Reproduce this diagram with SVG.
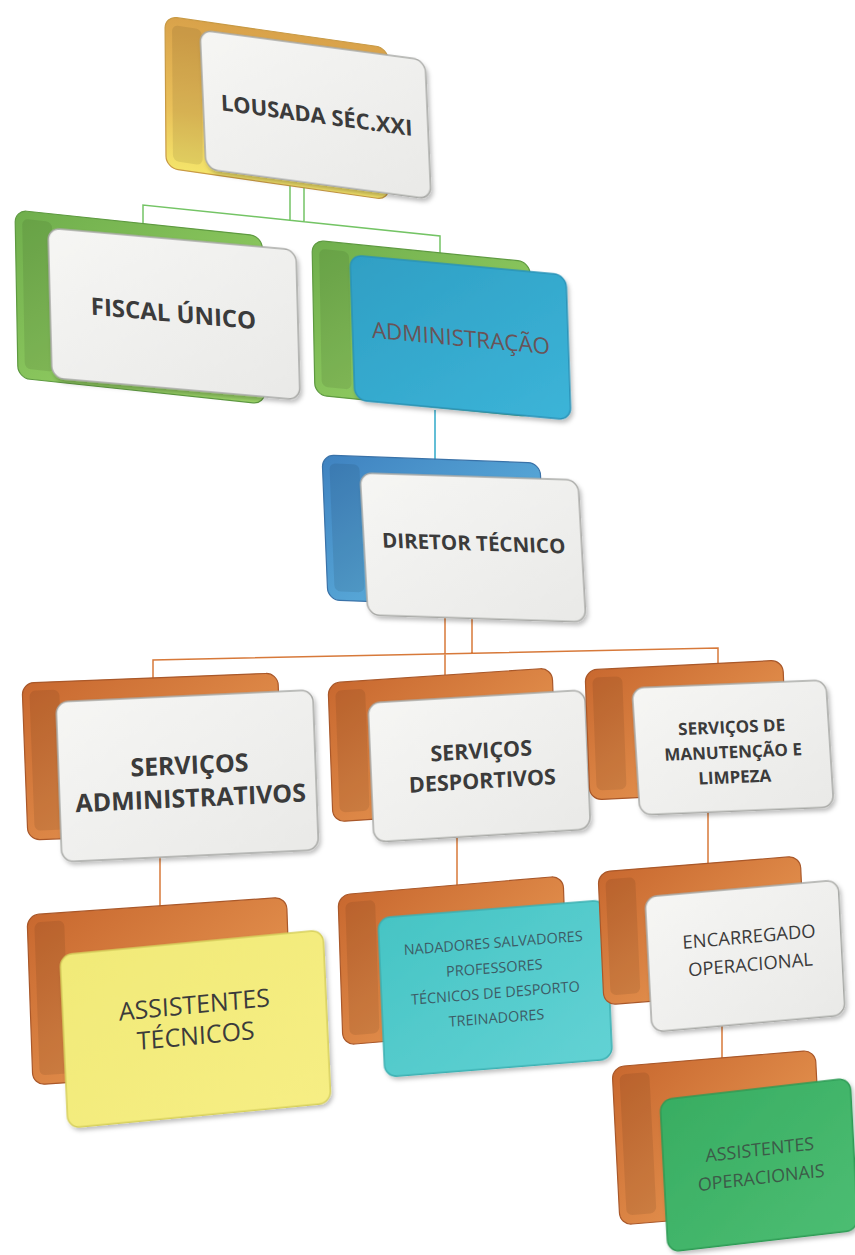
<svg xmlns="http://www.w3.org/2000/svg" width="855" height="1255" viewBox="0 0 855 1255">
<defs>
<linearGradient id="gGold" x1="0" y1="0" x2="0" y2="1"><stop offset="0" stop-color="#d9a24a"/><stop offset="0.6" stop-color="#e9c05a"/><stop offset="1" stop-color="#f4e46a"/></linearGradient>
<linearGradient id="gGreen" x1="0" y1="0" x2="1" y2="1"><stop offset="0" stop-color="#6fae4c"/><stop offset="1" stop-color="#9fd86a"/></linearGradient>
<linearGradient id="gBlue" x1="0" y1="0" x2="1" y2="1"><stop offset="0" stop-color="#3f82c0"/><stop offset="1" stop-color="#68c0e6"/></linearGradient>
<linearGradient id="gOr" x1="0" y1="0" x2="1" y2="1"><stop offset="0" stop-color="#c8682f"/><stop offset="1" stop-color="#eea15a"/></linearGradient>
<linearGradient id="gWhite" x1="0" y1="0" x2="1" y2="1"><stop offset="0" stop-color="#f6f6f4"/><stop offset="1" stop-color="#e9e9e7"/></linearGradient>
<linearGradient id="gAdm" x1="0" y1="0" x2="1" y2="1"><stop offset="0" stop-color="#2f9fc4"/><stop offset="1" stop-color="#3cb4d8"/></linearGradient>
<linearGradient id="gYel" x1="0" y1="0" x2="1" y2="1"><stop offset="0" stop-color="#f1ea78"/><stop offset="1" stop-color="#f6ee84"/></linearGradient>
<linearGradient id="gCyan" x1="0" y1="0" x2="1" y2="1"><stop offset="0" stop-color="#46c4c4"/><stop offset="1" stop-color="#62d2d4"/></linearGradient>
<linearGradient id="gGrn2" x1="0" y1="0" x2="1" y2="1"><stop offset="0" stop-color="#38ad62"/><stop offset="1" stop-color="#4cbd72"/></linearGradient>
<filter id="sh" x="-10%" y="-10%" width="125%" height="130%"><feDropShadow dx="2" dy="3" stdDeviation="2" flood-color="#000" flood-opacity="0.25"/></filter>
</defs>
<style>
.conn{fill:none;stroke-width:1.5}
.g{stroke:#74c465}.b{stroke:#2fa9c9}.o{stroke:#d7793a}
.bk{stroke-width:1.2}
.in{fill:#000;opacity:0.08}
.bg-gold{fill:url(#gGold);stroke:#c89a45}
.bg-green{fill:url(#gGreen);stroke:#5e9a40}
.bg-blue{fill:url(#gBlue);stroke:#3a72a8}
.bg-or{fill:url(#gOr);stroke:#a9582a}
.fr{filter:url(#sh);stroke-width:1.5}
.fw{fill:url(#gWhite);stroke:#a8a9a6}
.fa{fill:url(#gAdm);stroke:#2a93b8}
.fy{fill:url(#gYel);stroke:#d6cf5c}
.fc{fill:url(#gCyan);stroke:#3cb0b2}
.fg{fill:url(#gGrn2);stroke:#2f9a55}
text{font-family:"Open Sans","Noto Sans","Liberation Sans",sans-serif;text-anchor:middle;fill:#3b3b3b}
.bd{font-weight:bold}
</style>

<g id="connectors">
<path class="conn g" d="M290,180 V220 M304,182 V221.5 M143,223 V205 L440,236 V254"/>
<path class="conn b" d="M435,410 V460"/>
<path class="conn o" d="M445,612 V675 M472,614 V653 M153,678 V660 L718,648 V663"/>
<path class="conn o" d="M160,857 V907 M457,838 V886 M708,812 V864 M722,1026 V1059"/>
</g>

<g id="n-lousada">
<g transform="matrix(0.991 0.142 0.007 1 165 16)"><rect class="bk bg-gold" x="0" y="0" width="225" height="152" rx="12"/><rect class="in" x="7" y="8" width="30" height="136" rx="6"/></g>
<g transform="matrix(0.996 0.133 0.043 1 200 30)"><rect class="fr fw" x="0" y="0" width="226" height="139" rx="12"/><text class="bd" x="114" y="78" font-size="22">LOUSADA SÉC.XXI</text></g>
</g>

<g id="n-fiscal">
<g transform="matrix(0.996 0.105 0.018 1 15 210)"><rect class="bk bg-green" x="0" y="0" width="248" height="168" rx="12"/><rect class="in" x="7" y="8" width="30" height="150" rx="6"/></g>
<g transform="matrix(0.996 0.088 0.027 1 48 228)"><rect class="fr fw" x="0" y="0" width="249" height="150" rx="12"/><text class="bd" x="124" y="83" font-size="24">FISCAL ÚNICO</text></g>
</g>

<g id="n-admin">
<g transform="matrix(0.995 0.1 0.019 1 312 240)"><rect class="bk bg-green" x="0" y="0" width="219" height="155" rx="12"/><rect class="in" x="7" y="8" width="30" height="138" rx="6"/></g>
<g transform="matrix(0.995 0.092 0.034 1 350 255)"><rect class="fr fa" x="0" y="0" width="217" height="145" rx="12"/><text x="109" y="81" font-size="22.5" style="fill:#6a5357">ADMINISTRAÇÃO</text></g>
</g>

<g id="n-diretor">
<g transform="matrix(1 0.037 0.041 1 322 455)"><rect class="bk bg-blue" x="0" y="0" width="218" height="145" rx="12"/><rect class="in" x="7" y="8" width="30" height="128" rx="6"/></g>
<g transform="matrix(1 0.032 0.056 1 360 473)"><rect class="fr fw" x="0" y="0" width="218" height="142" rx="12"/><text class="bd" x="110" y="74" font-size="20.5">DIRETOR TÉCNICO</text></g>
</g>

<g id="n-serv-adm">
<g transform="matrix(0.999 -0.039 0.038 1 22 683)"><rect class="bk bg-or" x="0" y="0" width="256" height="157" rx="12"/><rect class="in" x="7" y="8" width="30" height="140" rx="6"/></g>
<g transform="matrix(0.999 -0.047 0.037 1 56 702)"><rect class="fr fw" x="0" y="0" width="257" height="160" rx="12"/><text class="bd" font-size="25"><tspan x="131" y="78">SERVIÇOS</tspan><tspan x="131" y="111">ADMINISTRATIVOS</tspan></text></g>
</g>

<g id="n-serv-desp">
<g transform="matrix(0.996 -0.067 0.036 1 328 683)"><rect class="bk bg-or" x="0" y="0" width="225" height="139" rx="12"/><rect class="in" x="7" y="8" width="30" height="122" rx="6"/></g>
<g transform="matrix(0.998 -0.06 0.043 1 368 703)"><rect class="fr fw" x="0" y="0" width="217" height="139" rx="12"/><text class="bd" font-size="21.5"><tspan x="111" y="62">SERVIÇOS</tspan><tspan x="111" y="92">DESPORTIVOS</tspan></text></g>
</g>

<g id="n-serv-man">
<g transform="matrix(0.999 -0.05 0.038 1 585 670)"><rect class="bk bg-or" x="0" y="0" width="198" height="130" rx="12"/><rect class="in" x="7" y="8" width="30" height="113" rx="6"/></g>
<g transform="matrix(0.999 -0.041 0.063 1 632 688)"><rect class="fr fw" x="0" y="0" width="194" height="127" rx="12"/><text class="bd" font-size="17"><tspan x="97" y="49">SERVIÇOS DE</tspan><tspan x="97" y="74">MANUTENÇÃO E</tspan><tspan x="97" y="99">LIMPEZA</tspan></text></g>
</g>

<g id="n-assist-tec">
<g transform="matrix(0.998 -0.069 0.035 1 27 915)"><rect class="bk bg-or" x="0" y="0" width="260" height="170" rx="12"/><rect class="in" x="7" y="8" width="30" height="153" rx="6"/></g>
<g transform="matrix(0.996 -0.095 0.046 1 60 955)"><rect class="fr fy" x="0" y="0" width="264" height="173" rx="12"/><text font-size="25"><tspan x="132" y="71">ASSISTENTES</tspan><tspan x="132" y="102">TÉCNICOS</tspan></text></g>
</g>

<g id="n-nadadores">
<g transform="matrix(0.996 -0.084 0.033 1 338 895)"><rect class="bk bg-or" x="0" y="0" width="226" height="150" rx="12"/><rect class="in" x="7" y="8" width="30" height="133" rx="6"/></g>
<g transform="matrix(0.997 -0.079 0.044 1 378 918)"><rect class="fr fc" x="0" y="0" width="228" height="159" rx="12"/><text font-size="14.5" style="fill:#3d5c66"><tspan x="114" y="39">NADADORES SALVADORES</tspan><tspan x="114" y="64">PROFESSORES</tspan><tspan x="114" y="89">TÉCNICOS DE DESPORTO</tspan><tspan x="114" y="114">TREINADORES</tspan></text></g>
</g>

<g id="n-encarregado">
<g transform="matrix(0.996 -0.079 0.045 1 598 872)"><rect class="bk bg-or" x="0" y="0" width="203" height="133" rx="12"/><rect class="in" x="7" y="8" width="30" height="116" rx="6"/></g>
<g transform="matrix(0.995 -0.088 0.052 1 645 897)"><rect class="fr fw" x="0" y="0" width="194" height="135" rx="12"/><text font-size="18.5"><tspan x="102" y="55">ENCARREGADO</tspan><tspan x="102" y="83">OPERACIONAL</tspan></text></g>
</g>

<g id="n-assist-op">
<g transform="matrix(0.996 -0.083 0.051 1 612 1067)"><rect class="bk bg-or" x="0" y="0" width="204" height="158" rx="12"/><rect class="in" x="7" y="8" width="30" height="141" rx="6"/></g>
<g transform="matrix(0.995 -0.115 0.053 1 660 1100)"><rect class="fr fg" x="0" y="0" width="191" height="152" rx="12"/><text font-size="18" style="fill:#3c5a48"><tspan x="97" y="67">ASSISTENTES</tspan><tspan x="97" y="95">OPERACIONAIS</tspan></text></g>
</g>
</svg>
